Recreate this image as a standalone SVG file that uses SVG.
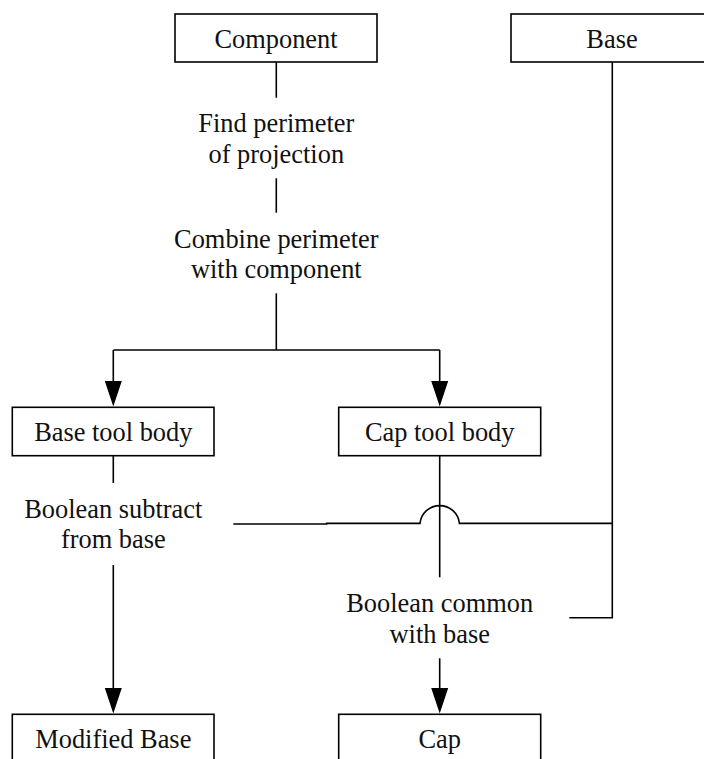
<svg xmlns="http://www.w3.org/2000/svg" width="704" height="759" viewBox="0 0 704 759">
<style>
.box{fill:#fff;stroke:#000;stroke-width:1.6}
.t{font-family:"Liberation Serif","Times New Roman",serif;font-size:26.4px;fill:#111;text-anchor:middle}
.c{fill:none;stroke:#000;stroke-width:1.6}
</style>
<defs>
<marker id="ah" markerUnits="userSpaceOnUse" markerWidth="18" markerHeight="26" refX="9" refY="25" orient="auto-start-reverse" viewBox="0 0 18 26">
<path d="M0.5,0 L17.5,0 L9,25 Z" fill="#000" transform="rotate(0)"/>
</marker>
</defs>
<rect width="704" height="759" fill="#fff"/>
<g id="connectors">
<path class="c" d="M276.3,62 V97.7"/>
<path class="c" d="M276.3,178.3 V212.7"/>
<path class="c" d="M276.3,293.3 V350"/>
<path class="c" d="M113.3,350 H439.7"/>
<path d="M113.3,350 V381 M439.7,350 V381" class="c"/>
<polygon points="104.8,381 121.8,381 113.3,406.5" fill="#000"/>
<polygon points="431.2,381 448.2,381 439.7,406.5" fill="#000"/>
<path class="c" d="M113.3,455.7 V483"/>
<path class="c" d="M439.7,455.7 V577.3"/>
<path class="c" d="M612.3,62 V617.7 H569.3"/>
<path class="c" d="M233.3,524 H326.7 V523.4 H420 A19.8,19.8 0 0 1 459.4,523.4 H612.3"/>
<path class="c" d="M113.3,565 V689"/>
<polygon points="104.8,688 121.8,688 113.3,713.5" fill="#000"/>
<path class="c" d="M439.7,658.3 V689"/>
<polygon points="431.2,688 448.2,688 439.7,713.5" fill="#000"/>
</g>
<g id="component">
<rect class="box" x="175" y="14" width="202" height="48"/>
<text class="t" x="276" y="48.3">Component</text>
</g>
<g id="base">
<rect class="box" x="511" y="14" width="202" height="48"/>
<text class="t" x="612" y="48.3">Base</text>
</g>
<g id="find-perimeter">
<text class="t" x="276.3" y="132.3">Find perimeter</text>
<text class="t" x="276.3" y="162.7">of projection</text>
</g>
<g id="combine-perimeter">
<text class="t" x="276.3" y="248.3">Combine perimeter</text>
<text class="t" x="276.3" y="277.7">with component</text>
</g>
<g id="base-tool-body">
<rect class="box" x="12.3" y="407.3" width="201.7" height="48.4"/>
<text class="t" x="113.3" y="441">Base tool body</text>
</g>
<g id="cap-tool-body">
<rect class="box" x="338.7" y="407.3" width="202" height="48.4"/>
<text class="t" x="439.7" y="441">Cap tool body</text>
</g>
<g id="boolean-subtract">
<text class="t" x="113.3" y="518">Boolean subtract</text>
<text class="t" x="113.3" y="548">from base</text>
</g>
<g id="boolean-common">
<text class="t" x="439.7" y="612.3">Boolean common</text>
<text class="t" x="439.7" y="643">with base</text>
</g>
<g id="modified-base">
<rect class="box" x="12.3" y="714.3" width="201.7" height="48.4"/>
<text class="t" x="113.3" y="748">Modified Base</text>
</g>
<g id="cap">
<rect class="box" x="338.7" y="714.3" width="202" height="48.4"/>
<text class="t" x="439.7" y="748">Cap</text>
</g>
</svg>
